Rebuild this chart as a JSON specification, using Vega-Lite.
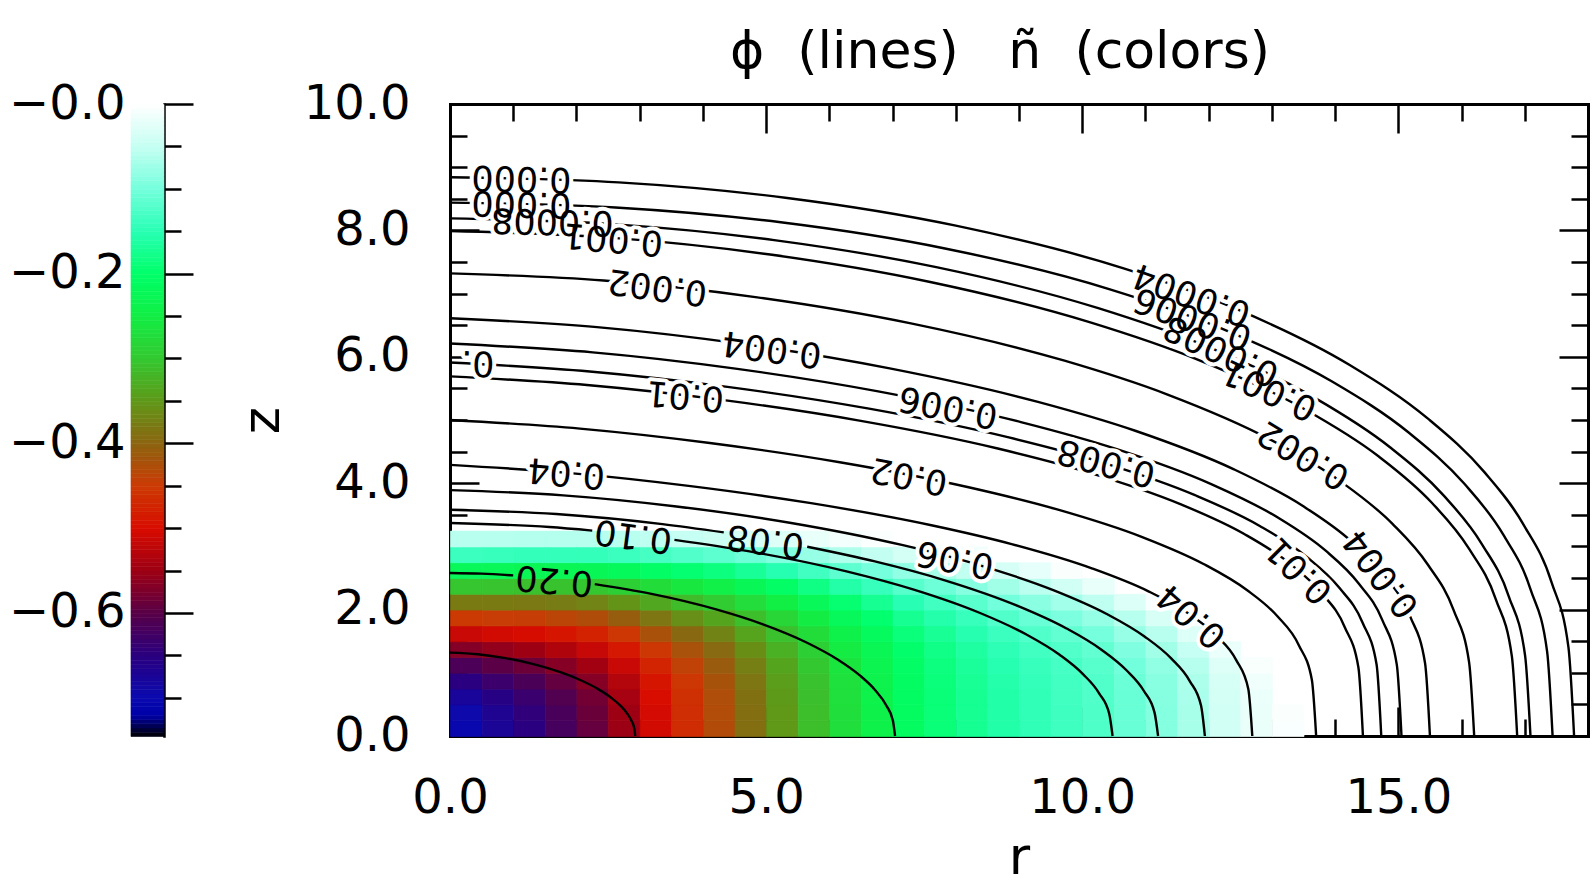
{
"$schema":"https://vega.github.io/schema/vega-lite/v6.json",
"background":"white",
"padding":{"left":8,"top":26,"right":5,"bottom":5},
"width":1138,"height":632,
"config":{"view":{"stroke":null},"font":"DejaVu Sans",
"axis":{"grid":false,"labelFont":"DejaVu Sans","labelFontSize":48,"labelColor":"black","tickColor":"black","tickWidth":2.5,"domainColor":"black","domainWidth":3,"domainCap":"square","titleFont":"DejaVu Sans","titleFontSize":52,"titleFontWeight":"normal","titleColor":"black","labelFlush":false,"labelOverlap":false,"zindex":1}},
"title":{"text":"ϕ\u00a0\u00a0(lines)\u00a0\u00a0\u00a0ñ\u00a0\u00a0(colors)","fontSize":52,"font":"DejaVu Sans","fontWeight":"normal","color":"black","anchor":"middle","offset":1,"dx":-19},
"datasets":{
"cbar":[{"v":-0.7425},{"v":-0.7375},{"v":-0.7325},{"v":-0.7275},{"v":-0.7225},{"v":-0.7175},{"v":-0.7125},{"v":-0.7075},{"v":-0.7025},{"v":-0.6975},{"v":-0.6925},{"v":-0.6875},{"v":-0.6825},{"v":-0.6775},{"v":-0.6725},{"v":-0.6675},{"v":-0.6625},{"v":-0.6575},{"v":-0.6525},{"v":-0.6475},{"v":-0.6425},{"v":-0.6375},{"v":-0.6325},{"v":-0.6275},{"v":-0.6225},{"v":-0.6175},{"v":-0.6125},{"v":-0.6075},{"v":-0.6025},{"v":-0.5975},{"v":-0.5925},{"v":-0.5875},{"v":-0.5825},{"v":-0.5775},{"v":-0.5725},{"v":-0.5675},{"v":-0.5625},{"v":-0.5575},{"v":-0.5525},{"v":-0.5475},{"v":-0.5425},{"v":-0.5375},{"v":-0.5325},{"v":-0.5275},{"v":-0.5225},{"v":-0.5175},{"v":-0.5125},{"v":-0.5075},{"v":-0.5025},{"v":-0.4975},{"v":-0.4925},{"v":-0.4875},{"v":-0.4825},{"v":-0.4775},{"v":-0.4725},{"v":-0.4675},{"v":-0.4625},{"v":-0.4575},{"v":-0.4525},{"v":-0.4475},{"v":-0.4425},{"v":-0.4375},{"v":-0.4325},{"v":-0.4275},{"v":-0.4225},{"v":-0.4175},{"v":-0.4125},{"v":-0.4075},{"v":-0.4025},{"v":-0.3975},{"v":-0.3925},{"v":-0.3875},{"v":-0.3825},{"v":-0.3775},{"v":-0.3725},{"v":-0.3675},{"v":-0.3625},{"v":-0.3575},{"v":-0.3525},{"v":-0.3475},{"v":-0.3425},{"v":-0.3375},{"v":-0.3325},{"v":-0.3275},{"v":-0.3225},{"v":-0.3175},{"v":-0.3125},{"v":-0.3075},{"v":-0.3025},{"v":-0.2975},{"v":-0.2925},{"v":-0.2875},{"v":-0.2825},{"v":-0.2775},{"v":-0.2725},{"v":-0.2675},{"v":-0.2625},{"v":-0.2575},{"v":-0.2525},{"v":-0.2475},{"v":-0.2425},{"v":-0.2375},{"v":-0.2325},{"v":-0.2275},{"v":-0.2225},{"v":-0.2175},{"v":-0.2125},{"v":-0.2075},{"v":-0.2025},{"v":-0.1975},{"v":-0.1925},{"v":-0.1875},{"v":-0.1825},{"v":-0.1775},{"v":-0.1725},{"v":-0.1675},{"v":-0.1625},{"v":-0.1575},{"v":-0.1525},{"v":-0.1475},{"v":-0.1425},{"v":-0.1375},{"v":-0.1325},{"v":-0.1275},{"v":-0.1225},{"v":-0.1175},{"v":-0.1125},{"v":-0.1075},{"v":-0.1025},{"v":-0.0975},{"v":-0.0925},{"v":-0.0875},{"v":-0.0825},{"v":-0.0775},{"v":-0.0725},{"v":-0.0675},{"v":-0.0625},{"v":-0.0575},{"v":-0.0525},{"v":-0.0475},{"v":-0.0425},{"v":-0.0375},{"v":-0.0325},{"v":-0.0275},{"v":-0.0225},{"v":-0.0175},{"v":-0.0125},{"v":-0.0075},{"v":-0.0025}],
"cells":[
{"r":0,"z":0,"n":-0.704},{"r":0,"z":0.25,"n":-0.695},{"r":0,"z":0.5,"n":-0.677},{"r":0,"z":0.75,"n":-0.65},{"r":0,"z":1,"n":-0.613},{"r":0,"z":1.25,"n":-0.568},{"r":0,"z":1.5,"n":-0.513},{"r":0,"z":1.75,"n":-0.45},{"r":0,"z":2,"n":-0.379},{"r":0,"z":2.25,"n":-0.302},{"r":0,"z":2.5,"n":-0.221},{"r":0,"z":2.75,"n":-0.138},{"r":0,"z":3,"n":-0.057},
{"r":0.5,"z":0,"n":-0.674},{"r":0.5,"z":0.25,"n":-0.668},{"r":0.5,"z":0.5,"n":-0.654},{"r":0.5,"z":0.75,"n":-0.631},{"r":0.5,"z":1,"n":-0.598},{"r":0.5,"z":1.25,"n":-0.557},{"r":0.5,"z":1.5,"n":-0.506},{"r":0.5,"z":1.75,"n":-0.447},{"r":0.5,"z":2,"n":-0.379},{"r":0.5,"z":2.25,"n":-0.304},{"r":0.5,"z":2.5,"n":-0.224},{"r":0.5,"z":2.75,"n":-0.14},{"r":0.5,"z":3,"n":-0.058},
{"r":1,"z":0,"n":-0.65},{"r":1,"z":0.25,"n":-0.645},{"r":1,"z":0.5,"n":-0.633},{"r":1,"z":0.75,"n":-0.614},{"r":1,"z":1,"n":-0.586},{"r":1,"z":1.25,"n":-0.548},{"r":1,"z":1.5,"n":-0.501},{"r":1,"z":1.75,"n":-0.445},{"r":1,"z":2,"n":-0.38},{"r":1,"z":2.25,"n":-0.307},{"r":1,"z":2.5,"n":-0.227},{"r":1,"z":2.75,"n":-0.143},{"r":1,"z":3,"n":-0.06},
{"r":1.5,"z":0,"n":-0.62},{"r":1.5,"z":0.25,"n":-0.616},{"r":1.5,"z":0.5,"n":-0.607},{"r":1.5,"z":0.75,"n":-0.591},{"r":1.5,"z":1,"n":-0.566},{"r":1.5,"z":1.25,"n":-0.533},{"r":1.5,"z":1.5,"n":-0.49},{"r":1.5,"z":1.75,"n":-0.437},{"r":1.5,"z":2,"n":-0.376},{"r":1.5,"z":2.25,"n":-0.305},{"r":1.5,"z":2.5,"n":-0.227},{"r":1.5,"z":2.75,"n":-0.143},{"r":1.5,"z":3,"n":-0.06},
{"r":2,"z":0,"n":-0.59},{"r":2,"z":0.25,"n":-0.587},{"r":2,"z":0.5,"n":-0.58},{"r":2,"z":0.75,"n":-0.566},{"r":2,"z":1,"n":-0.545},{"r":2,"z":1.25,"n":-0.515},{"r":2,"z":1.5,"n":-0.476},{"r":2,"z":1.75,"n":-0.428},{"r":2,"z":2,"n":-0.369},{"r":2,"z":2.25,"n":-0.301},{"r":2,"z":2.5,"n":-0.225},{"r":2,"z":2.75,"n":-0.143},{"r":2,"z":3,"n":-0.059},
{"r":2.5,"z":0,"n":-0.55},{"r":2.5,"z":0.25,"n":-0.548},{"r":2.5,"z":0.5,"n":-0.542},{"r":2.5,"z":0.75,"n":-0.531},{"r":2.5,"z":1,"n":-0.513},{"r":2.5,"z":1.25,"n":-0.487},{"r":2.5,"z":1.5,"n":-0.453},{"r":2.5,"z":1.75,"n":-0.408},{"r":2.5,"z":2,"n":-0.354},{"r":2.5,"z":2.25,"n":-0.29},{"r":2.5,"z":2.5,"n":-0.218},{"r":2.5,"z":2.75,"n":-0.138},{"r":2.5,"z":3,"n":-0.057},
{"r":3,"z":0,"n":-0.505},{"r":3,"z":0.25,"n":-0.504},{"r":3,"z":0.5,"n":-0.499},{"r":3,"z":0.75,"n":-0.49},{"r":3,"z":1,"n":-0.475},{"r":3,"z":1.25,"n":-0.453},{"r":3,"z":1.5,"n":-0.423},{"r":3,"z":1.75,"n":-0.383},{"r":3,"z":2,"n":-0.333},{"r":3,"z":2.25,"n":-0.274},{"r":3,"z":2.5,"n":-0.206},{"r":3,"z":2.75,"n":-0.131},{"r":3,"z":3,"n":-0.053},
{"r":3.5,"z":0,"n":-0.465},{"r":3.5,"z":0.25,"n":-0.464},{"r":3.5,"z":0.5,"n":-0.461},{"r":3.5,"z":0.75,"n":-0.453},{"r":3.5,"z":1,"n":-0.441},{"r":3.5,"z":1.25,"n":-0.422},{"r":3.5,"z":1.5,"n":-0.395},{"r":3.5,"z":1.75,"n":-0.359},{"r":3.5,"z":2,"n":-0.314},{"r":3.5,"z":2.25,"n":-0.259},{"r":3.5,"z":2.5,"n":-0.195},{"r":3.5,"z":2.75,"n":-0.123},{"r":3.5,"z":3,"n":-0.048},
{"r":4,"z":0,"n":-0.43},{"r":4,"z":0.25,"n":-0.429},{"r":4,"z":0.5,"n":-0.427},{"r":4,"z":0.75,"n":-0.421},{"r":4,"z":1,"n":-0.41},{"r":4,"z":1.25,"n":-0.394},{"r":4,"z":1.5,"n":-0.37},{"r":4,"z":1.75,"n":-0.337},{"r":4,"z":2,"n":-0.296},{"r":4,"z":2.25,"n":-0.245},{"r":4,"z":2.5,"n":-0.184},{"r":4,"z":2.75,"n":-0.115},{"r":4,"z":3,"n":-0.043},
{"r":4.5,"z":0,"n":-0.39},{"r":4.5,"z":0.25,"n":-0.39},{"r":4.5,"z":0.5,"n":-0.388},{"r":4.5,"z":0.75,"n":-0.383},{"r":4.5,"z":1,"n":-0.374},{"r":4.5,"z":1.25,"n":-0.36},{"r":4.5,"z":1.5,"n":-0.339},{"r":4.5,"z":1.75,"n":-0.31},{"r":4.5,"z":2,"n":-0.273},{"r":4.5,"z":2.25,"n":-0.225},{"r":4.5,"z":2.5,"n":-0.169},{"r":4.5,"z":2.75,"n":-0.104},{"r":4.5,"z":3,"n":-0.036},
{"r":5,"z":0,"n":-0.35},{"r":5,"z":0.25,"n":-0.35},{"r":5,"z":0.5,"n":-0.348},{"r":5,"z":0.75,"n":-0.344},{"r":5,"z":1,"n":-0.337},{"r":5,"z":1.25,"n":-0.325},{"r":5,"z":1.5,"n":-0.307},{"r":5,"z":1.75,"n":-0.282},{"r":5,"z":2,"n":-0.248},{"r":5,"z":2.25,"n":-0.205},{"r":5,"z":2.5,"n":-0.152},{"r":5,"z":2.75,"n":-0.092},{"r":5,"z":3,"n":-0.028},
{"r":5.5,"z":0,"n":-0.31},{"r":5.5,"z":0.25,"n":-0.31},{"r":5.5,"z":0.5,"n":-0.309},{"r":5.5,"z":0.75,"n":-0.306},{"r":5.5,"z":1,"n":-0.3},{"r":5.5,"z":1.25,"n":-0.29},{"r":5.5,"z":1.5,"n":-0.274},{"r":5.5,"z":1.75,"n":-0.252},{"r":5.5,"z":2,"n":-0.221},{"r":5.5,"z":2.25,"n":-0.182},{"r":5.5,"z":2.5,"n":-0.134},{"r":5.5,"z":2.75,"n":-0.078},{"r":5.5,"z":3,"n":-0.019},
{"r":6,"z":0,"n":-0.27},{"r":6,"z":0.25,"n":-0.27},{"r":6,"z":0.5,"n":-0.269},{"r":6,"z":0.75,"n":-0.267},{"r":6,"z":1,"n":-0.262},{"r":6,"z":1.25,"n":-0.253},{"r":6,"z":1.5,"n":-0.24},{"r":6,"z":1.75,"n":-0.22},{"r":6,"z":2,"n":-0.194},{"r":6,"z":2.25,"n":-0.158},{"r":6,"z":2.5,"n":-0.115},{"r":6,"z":2.75,"n":-0.063},{"r":6,"z":3,"n":-0.011},
{"r":6.5,"z":0,"n":-0.24},{"r":6.5,"z":0.25,"n":-0.24},{"r":6.5,"z":0.5,"n":-0.239},{"r":6.5,"z":0.75,"n":-0.237},{"r":6.5,"z":1,"n":-0.233},{"r":6.5,"z":1.25,"n":-0.226},{"r":6.5,"z":1.5,"n":-0.214},{"r":6.5,"z":1.75,"n":-0.197},{"r":6.5,"z":2,"n":-0.172},{"r":6.5,"z":2.25,"n":-0.14},{"r":6.5,"z":2.5,"n":-0.099},{"r":6.5,"z":2.75,"n":-0.051},{"r":6.5,"z":3,"n":-0.003},
{"r":7,"z":0,"n":-0.21},{"r":7,"z":0.25,"n":-0.21},{"r":7,"z":0.5,"n":-0.209},{"r":7,"z":0.75,"n":-0.208},{"r":7,"z":1,"n":-0.205},{"r":7,"z":1.25,"n":-0.198},{"r":7,"z":1.5,"n":-0.188},{"r":7,"z":1.75,"n":-0.172},{"r":7,"z":2,"n":-0.15},{"r":7,"z":2.25,"n":-0.12},{"r":7,"z":2.5,"n":-0.082},{"r":7,"z":2.75,"n":-0.037},
{"r":7.5,"z":0,"n":-0.19},{"r":7.5,"z":0.25,"n":-0.19},{"r":7.5,"z":0.5,"n":-0.19},{"r":7.5,"z":0.75,"n":-0.188},{"r":7.5,"z":1,"n":-0.185},{"r":7.5,"z":1.25,"n":-0.18},{"r":7.5,"z":1.5,"n":-0.17},{"r":7.5,"z":1.75,"n":-0.155},{"r":7.5,"z":2,"n":-0.134},{"r":7.5,"z":2.25,"n":-0.105},{"r":7.5,"z":2.5,"n":-0.068},{"r":7.5,"z":2.75,"n":-0.025},
{"r":8,"z":0,"n":-0.172},{"r":8,"z":0.25,"n":-0.172},{"r":8,"z":0.5,"n":-0.172},{"r":8,"z":0.75,"n":-0.17},{"r":8,"z":1,"n":-0.167},{"r":8,"z":1.25,"n":-0.162},{"r":8,"z":1.5,"n":-0.153},{"r":8,"z":1.75,"n":-0.14},{"r":8,"z":2,"n":-0.117},{"r":8,"z":2.25,"n":-0.089},{"r":8,"z":2.5,"n":-0.052},{"r":8,"z":2.75,"n":-0.012},
{"r":8.5,"z":0,"n":-0.157},{"r":8.5,"z":0.25,"n":-0.157},{"r":8.5,"z":0.5,"n":-0.157},{"r":8.5,"z":0.75,"n":-0.155},{"r":8.5,"z":1,"n":-0.152},{"r":8.5,"z":1.25,"n":-0.147},{"r":8.5,"z":1.5,"n":-0.138},{"r":8.5,"z":1.75,"n":-0.123},{"r":8.5,"z":2,"n":-0.101},{"r":8.5,"z":2.25,"n":-0.072},{"r":8.5,"z":2.5,"n":-0.036},
{"r":9,"z":0,"n":-0.145},{"r":9,"z":0.25,"n":-0.145},{"r":9,"z":0.5,"n":-0.145},{"r":9,"z":0.75,"n":-0.143},{"r":9,"z":1,"n":-0.14},{"r":9,"z":1.25,"n":-0.134},{"r":9,"z":1.5,"n":-0.124},{"r":9,"z":1.75,"n":-0.108},{"r":9,"z":2,"n":-0.086},{"r":9,"z":2.25,"n":-0.056},{"r":9,"z":2.5,"n":-0.021},
{"r":9.5,"z":0,"n":-0.135},{"r":9.5,"z":0.25,"n":-0.135},{"r":9.5,"z":0.5,"n":-0.134},{"r":9.5,"z":0.75,"n":-0.133},{"r":9.5,"z":1,"n":-0.13},{"r":9.5,"z":1.25,"n":-0.123},{"r":9.5,"z":1.5,"n":-0.112},{"r":9.5,"z":1.75,"n":-0.095},{"r":9.5,"z":2,"n":-0.071},{"r":9.5,"z":2.25,"n":-0.039},{"r":9.5,"z":2.5,"n":-0.004},
{"r":10,"z":0,"n":-0.125},{"r":10,"z":0.25,"n":-0.125},{"r":10,"z":0.5,"n":-0.124},{"r":10,"z":0.75,"n":-0.123},{"r":10,"z":1,"n":-0.119},{"r":10,"z":1.25,"n":-0.112},{"r":10,"z":1.5,"n":-0.099},{"r":10,"z":1.75,"n":-0.08},{"r":10,"z":2,"n":-0.053},{"r":10,"z":2.25,"n":-0.019},
{"r":10.5,"z":0,"n":-0.108},{"r":10.5,"z":0.25,"n":-0.108},{"r":10.5,"z":0.5,"n":-0.107},{"r":10.5,"z":0.75,"n":-0.106},{"r":10.5,"z":1,"n":-0.101},{"r":10.5,"z":1.25,"n":-0.093},{"r":10.5,"z":1.5,"n":-0.079},{"r":10.5,"z":1.75,"n":-0.058},{"r":10.5,"z":2,"n":-0.03},
{"r":11,"z":0,"n":-0.09},{"r":11,"z":0.25,"n":-0.09},{"r":11,"z":0.5,"n":-0.089},{"r":11,"z":0.75,"n":-0.087},{"r":11,"z":1,"n":-0.082},{"r":11,"z":1.25,"n":-0.072},{"r":11,"z":1.5,"n":-0.057},{"r":11,"z":1.75,"n":-0.034},{"r":11,"z":2,"n":-0.005},
{"r":11.5,"z":0,"n":-0.068},{"r":11.5,"z":0.25,"n":-0.068},{"r":11.5,"z":0.5,"n":-0.067},{"r":11.5,"z":0.75,"n":-0.065},{"r":11.5,"z":1,"n":-0.059},{"r":11.5,"z":1.25,"n":-0.048},{"r":11.5,"z":1.5,"n":-0.03},{"r":11.5,"z":1.75,"n":-0.006},
{"r":12,"z":0,"n":-0.038},{"r":12,"z":0.25,"n":-0.038},{"r":12,"z":0.5,"n":-0.037},{"r":12,"z":0.75,"n":-0.035},{"r":12,"z":1,"n":-0.029},{"r":12,"z":1.25,"n":-0.017},
{"r":12.5,"z":0,"n":-0.018},{"r":12.5,"z":0.25,"n":-0.018},{"r":12.5,"z":0.5,"n":-0.017},{"r":12.5,"z":0.75,"n":-0.013},{"r":12.5,"z":1,"n":-0.006},
{"r":13,"z":0,"n":-0.005},{"r":13,"z":0.25,"n":-0.004}],
"lines":[
{"s":1,"r":0,"z":1.32},{"s":1,"r":0.44,"z":1.294},{"s":1,"r":0.879,"z":1.232},{"s":1,"r":1.319,"z":1.138},{"s":1,"r":1.758,"z":1.006},{"s":1,"r":2.051,"z":0.89},{"s":1,"r":2.344,"z":0.742},{"s":1,"r":2.549,"z":0.606},{"s":1,"r":2.696,"z":0.48},{"s":1,"r":2.798,"z":0.362},{"s":1,"r":2.871,"z":0.242},{"s":1,"r":2.915,"z":0.122},{"s":1,"r":2.93,"z":0},
{"s":2,"r":0,"z":2.58},{"s":2,"r":0.5,"z":2.569},{"s":2,"r":1.0,"z":2.541},
{"s":3,"r":2.29,"z":2.403},{"s":3,"r":3.168,"z":2.253},{"s":3,"r":4.224,"z":2.0},{"s":3,"r":4.928,"z":1.776},{"s":3,"r":5.632,"z":1.484},{"s":3,"r":6.125,"z":1.215},{"s":3,"r":6.477,"z":0.963},{"s":3,"r":6.723,"z":0.728},{"s":3,"r":6.899,"z":0.487},{"s":3,"r":7.005,"z":0.245},{"s":3,"r":7.04,"z":0},
{"s":4,"r":0,"z":3.37},{"s":4,"r":1.572,"z":3.306},{"s":4,"r":2.25,"z":3.25},
{"s":5,"r":3.55,"z":3.104},{"s":5,"r":4.716,"z":2.925},{"s":5,"r":6.288,"z":2.601},{"s":5,"r":7.336,"z":2.316},{"s":5,"r":8.384,"z":1.946},{"s":5,"r":9.118,"z":1.606},{"s":5,"r":9.642,"z":1.286},{"s":5,"r":10.008,"z":0.983},{"s":5,"r":10.27,"z":0.671},{"s":5,"r":10.428,"z":0.348},{"s":5,"r":10.48,"z":0},
{"s":6,"r":0,"z":3.58},{"s":6,"r":1.68,"z":3.512},{"s":6,"r":3.36,"z":3.352},{"s":6,"r":4.33,"z":3.221},
{"s":7,"r":5.65,"z":2.995},{"s":7,"r":6.72,"z":2.763},{"s":7,"r":7.84,"z":2.46},{"s":7,"r":8.96,"z":2.067},{"s":7,"r":9.744,"z":1.706},{"s":7,"r":10.304,"z":1.366},{"s":7,"r":10.696,"z":1.044},{"s":7,"r":10.976,"z":0.712},{"s":7,"r":11.144,"z":0.37},{"s":7,"r":11.2,"z":0},
{"s":8,"r":0,"z":3.89},{"s":8,"r":1.791,"z":3.808},{"s":8,"r":3.582,"z":3.632},{"s":8,"r":5.373,"z":3.375},{"s":8,"r":7.164,"z":3.019},{"s":8,"r":8.358,"z":2.708},{"s":8,"r":9.552,"z":2.305},{"s":8,"r":10.388,"z":1.931},{"s":8,"r":10.985,"z":1.575},{"s":8,"r":11.403,"z":1.232},{"s":8,"r":11.701,"z":0.869},{"s":8,"r":11.88,"z":0.477},{"s":8,"r":11.94,"z":0},
{"s":9,"r":0,"z":4.29},{"s":9,"r":1.904,"z":4.16},{"s":9,"r":3.807,"z":3.954},{"s":9,"r":5.711,"z":3.684},{"s":9,"r":7.614,"z":3.335},{"s":9,"r":8.883,"z":3.037},{"s":9,"r":10.152,"z":2.653},{"s":9,"r":11.04,"z":2.293},{"s":9,"r":11.675,"z":1.941},{"s":9,"r":12.119,"z":1.591},{"s":9,"r":12.436,"z":1.201},{"s":9,"r":12.627,"z":0.742},{"s":9,"r":12.69,"z":0},
{"s":10,"r":0,"z":5.0},{"s":10,"r":2.055,"z":4.864},{"s":10,"r":4.11,"z":4.636},{"s":10,"r":6.165,"z":4.332},{"s":10,"r":8.22,"z":3.932},{"s":10,"r":9.59,"z":3.589},{"s":10,"r":10.96,"z":3.143},{"s":10,"r":11.919,"z":2.722},{"s":10,"r":12.604,"z":2.31},{"s":10,"r":13.084,"z":1.898},{"s":10,"r":13.426,"z":1.437},{"s":10,"r":13.632,"z":0.89},{"s":10,"r":13.7,"z":0},
{"s":11,"r":0,"z":5.69},{"s":11,"r":2.166,"z":5.553},{"s":11,"r":4.332,"z":5.314},{"s":11,"r":6.498,"z":4.986},{"s":11,"r":8.664,"z":4.549},{"s":11,"r":10.108,"z":4.168},{"s":11,"r":11.552,"z":3.669},{"s":11,"r":12.563,"z":3.196},{"s":11,"r":13.285,"z":2.728},{"s":11,"r":13.79,"z":2.257},{"s":11,"r":14.151,"z":1.726},{"s":11,"r":14.368,"z":1.088},{"s":11,"r":14.44,"z":0},
{"s":12,"r":0,"z":5.91},{"s":12,"r":2.21,"z":5.768},{"s":12,"r":4.419,"z":5.52},{"s":12,"r":6.629,"z":5.179},{"s":12,"r":8.838,"z":4.724},{"s":12,"r":10.311,"z":4.33},{"s":12,"r":11.784,"z":3.811},{"s":12,"r":12.815,"z":3.32},{"s":12,"r":13.552,"z":2.833},{"s":12,"r":14.067,"z":2.344},{"s":12,"r":14.435,"z":1.793},{"s":12,"r":14.656,"z":1.131},{"s":12,"r":14.73,"z":0},
{"s":13,"r":0,"z":6.21},{"s":13,"r":2.258,"z":6.07},{"s":13,"r":4.515,"z":5.813},{"s":13,"r":6.773,"z":5.453},{"s":13,"r":9.03,"z":4.967},{"s":13,"r":10.535,"z":4.543},{"s":13,"r":12.04,"z":3.986},{"s":13,"r":13.094,"z":3.457},{"s":13,"r":13.846,"z":2.936},{"s":13,"r":14.373,"z":2.413},{"s":13,"r":14.749,"z":1.829},{"s":13,"r":14.975,"z":1.133},{"s":13,"r":15.05,"z":0},
{"s":14,"r":0,"z":6.61},{"s":14,"r":2.325,"z":6.47},{"s":14,"r":4.65,"z":6.2},{"s":14,"r":6.975,"z":5.813},{"s":14,"r":9.3,"z":5.287},{"s":14,"r":10.85,"z":4.826},{"s":14,"r":12.4,"z":4.219},{"s":14,"r":13.485,"z":3.643},{"s":14,"r":14.26,"z":3.078},{"s":14,"r":14.803,"z":2.513},{"s":14,"r":15.19,"z":1.885},{"s":14,"r":15.423,"z":1.151},{"s":14,"r":15.5,"z":0},
{"s":15,"r":0,"z":7.32},{"s":15,"r":2.43,"z":7.207},{"s":15,"r":4.86,"z":6.941},{"s":15,"r":7.29,"z":6.529},{"s":15,"r":9.72,"z":5.938},{"s":15,"r":11.34,"z":5.406},{"s":15,"r":12.96,"z":4.698},{"s":15,"r":14.094,"z":4.023},{"s":15,"r":14.904,"z":3.361},{"s":15,"r":15.471,"z":2.706},{"s":15,"r":15.876,"z":1.987},{"s":15,"r":16.119,"z":1.17},{"s":15,"r":16.2,"z":0},
{"s":16,"r":0,"z":7.99},{"s":16,"r":2.532,"z":7.885},{"s":16,"r":5.064,"z":7.618},{"s":16,"r":7.596,"z":7.184},{"s":16,"r":10.128,"z":6.545},{"s":16,"r":11.816,"z":5.961},{"s":16,"r":13.504,"z":5.178},{"s":16,"r":14.686,"z":4.426},{"s":16,"r":15.53,"z":3.69},{"s":16,"r":16.12,"z":2.96},{"s":16,"r":16.542,"z":2.163},{"s":16,"r":16.796,"z":1.26},{"s":16,"r":16.88,"z":0},
{"s":17,"r":0,"z":8.19},{"s":17,"r":2.564,"z":8.1},{"s":17,"r":5.127,"z":7.847},{"s":17,"r":7.691,"z":7.418},{"s":17,"r":10.254,"z":6.769},{"s":17,"r":11.963,"z":6.168},{"s":17,"r":13.672,"z":5.354},{"s":17,"r":14.868,"z":4.569},{"s":17,"r":15.723,"z":3.799},{"s":17,"r":16.321,"z":3.037},{"s":17,"r":16.748,"z":2.207},{"s":17,"r":17.005,"z":1.272},{"s":17,"r":17.09,"z":0},
{"s":18,"r":0,"z":8.44},{"s":18,"r":2.616,"z":8.363},{"s":18,"r":5.232,"z":8.128},{"s":18,"r":7.848,"z":7.71},{"s":18,"r":10.464,"z":7.06},{"s":18,"r":12.208,"z":6.447},{"s":18,"r":13.952,"z":5.608},{"s":18,"r":15.173,"z":4.794},{"s":18,"r":16.045,"z":3.99},{"s":18,"r":16.655,"z":3.193},{"s":18,"r":17.091,"z":2.32},{"s":18,"r":17.353,"z":1.338},{"s":18,"r":17.44,"z":0},
{"s":19,"r":0,"z":8.84},{"s":19,"r":2.667,"z":8.76},{"s":19,"r":5.334,"z":8.513},{"s":19,"r":8.001,"z":8.075},{"s":19,"r":10.668,"z":7.395},{"s":19,"r":12.446,"z":6.753},{"s":19,"r":14.224,"z":5.874},{"s":19,"r":15.469,"z":5.021},{"s":19,"r":16.358,"z":4.179},{"s":19,"r":16.98,"z":3.344},{"s":19,"r":17.424,"z":2.43},{"s":19,"r":17.691,"z":1.401},{"s":19,"r":17.78,"z":0}],
"labels":[
{"id":1,"t":"0.000","r":1.13,"z":8.83},
{"id":2,"t":"0.000","r":1.13,"z":8.43},
{"id":3,"t":"0.0008","r":1.62,"z":8.15},
{"id":4,"t":"0.001","r":2.58,"z":7.87},
{"id":5,"t":"0.002","r":3.28,"z":7.11},
{"id":6,"t":"0.004","r":5.09,"z":6.13},
{"id":7,"t":"0.","r":0.44,"z":5.91},
{"id":8,"t":"0.01","r":3.72,"z":5.39},
{"id":9,"t":"0.006","r":7.88,"z":5.21},
{"id":10,"t":"0.04","r":1.84,"z":4.17},
{"id":11,"t":"0.02","r":7.26,"z":4.12},
{"id":12,"t":"0.10","r":2.9,"z":3.17},
{"id":13,"t":"0.08","r":4.99,"z":3.09},
{"id":14,"t":"0.06","r":7.99,"z":2.8},
{"id":15,"t":"0.20","r":1.65,"z":2.47},
{"id":16,"t":"0.008","r":10.38,"z":4.33},
{"id":17,"t":"0.002","r":13.5,"z":4.45},
{"id":18,"t":"0.01","r":13.43,"z":2.62},
{"id":19,"t":"0.004","r":14.73,"z":2.57},
{"id":20,"t":"0.04","r":11.73,"z":1.9},
{"id":21,"t":"0.0004","r":11.73,"z":6.99},
{"id":22,"t":"0.0006","r":11.75,"z":6.61},
{"id":23,"t":"0.0008","r":12.2,"z":6.1},
{"id":24,"t":"0.001","r":12.96,"z":5.48}]
},
"layer":[
{
"data":{"name":"cbar"},
"encoding":{
"x":{"datum":0,"type":"quantitative","scale":{"domain":[9.6667,44.1515],"nice":false,"zero":false},"axis":null},
"x2":{"datum":1},
"color":{"field":"v","type":"quantitative","scale":{"domain":[-0.745,-0.72,-0.7,-0.65,-0.6,-0.55,-0.5,-0.45,-0.4,-0.35,-0.3,-0.25,-0.2,-0.15,-0.1,-0.05,0],"range":["#000000","#0000a8","#0a0ab0","#2a0080","#580048","#9c0014","#d80c00","#cc3a04","#8c6410","#609818","#34c830","#12ee44","#00ff68","#28ffb4","#74ffdc","#c4fff2","#ffffff"],"interpolate":"rgb"},"legend":null},
"stroke":{"field":"v","type":"quantitative","scale":{"domain":[-0.745,-0.72,-0.7,-0.65,-0.6,-0.55,-0.5,-0.45,-0.4,-0.35,-0.3,-0.25,-0.2,-0.15,-0.1,-0.05,0],"range":["#000000","#0000a8","#0a0ab0","#2a0080","#580048","#9c0014","#d80c00","#cc3a04","#8c6410","#609818","#34c830","#12ee44","#00ff68","#28ffb4","#74ffdc","#c4fff2","#ffffff"],"interpolate":"rgb"},"legend":null}
},
"layer":[
{"mark":{"type":"rect","strokeWidth":0.6},
"encoding":{"y":{"field":"v","type":"quantitative","bin":{"step":0.005,"extent":[-0.745,0],"nice":false},"scale":{"domain":[-0.745,0],"nice":false,"zero":false},
"axis":{"orient":"left","offset":319,"values":[0,-0.2,-0.4,-0.6],"labelExpr":"'\u2212' + format(abs(datum.value), '.1f')","ticks":false,"domain":false,"labelPadding":6,"title":null}}}},
{"mark":{"type":"rect","opacity":0},
"encoding":{"y":{"field":"v","type":"quantitative","bin":{"step":0.005,"extent":[-0.745,0],"nice":false},"scale":{"domain":[-0.745,0],"nice":false,"zero":false},
"axis":{"orient":"left","offset":286,"values":[0,-0.2,-0.4,-0.6],"tickSize":-29,"labels":false,"domain":true,"domainWidth":2.5,"title":null}}}},
{"mark":{"type":"rect","opacity":0},
"encoding":{"y":{"field":"v","type":"quantitative","bin":{"step":0.005,"extent":[-0.745,0],"nice":false},"scale":{"domain":[-0.745,0],"nice":false,"zero":false},
"axis":{"orient":"left","offset":286,"values":[-0.05,-0.1,-0.15,-0.25,-0.3,-0.35,-0.45,-0.5,-0.55,-0.65,-0.7],"tickSize":-17,"labels":false,"domain":false,"title":null}}}}
],
"resolve":{"axis":{"y":"independent"}}
},
{
"encoding":{
"x":{"field":"r","type":"quantitative","scale":{"domain":[0,18],"nice":false,"zero":false},"axis":null},
"y":{"field":"z","type":"quantitative","scale":{"domain":[0,10],"nice":false,"zero":false},"axis":null}
},
"layer":[
{"data":{"name":"cells"},
"mark":{"type":"rect","strokeWidth":0.7},
"encoding":{
"x":{"field":"r","type":"quantitative","bin":{"step":0.5,"extent":[0,18],"nice":false},"scale":{"domain":[0,18],"nice":false,"zero":false},
"axis":{"orient":"bottom","values":[0,5,10,15],"format":".1f","tickSize":-29,"labelPadding":67,"title":"r","titlePadding":10}},
"y":{"field":"z","type":"quantitative","bin":{"step":0.25,"extent":[0,10],"nice":false},"scale":{"domain":[0,10],"nice":false,"zero":false},
"axis":{"orient":"left","values":[0,2,4,6,8,10],"format":".1f","tickSize":-29,"labelPadding":69,"title":"z","titlePadding":14}},
"color":{"field":"n","type":"quantitative","scale":{"domain":[-0.745,-0.72,-0.7,-0.65,-0.6,-0.55,-0.5,-0.45,-0.4,-0.35,-0.3,-0.25,-0.2,-0.15,-0.1,-0.05,0],"range":["#000000","#0000a8","#0a0ab0","#2a0080","#580048","#9c0014","#d80c00","#cc3a04","#8c6410","#609818","#34c830","#12ee44","#00ff68","#28ffb4","#74ffdc","#c4fff2","#ffffff"],"interpolate":"rgb"},"legend":null},
"stroke":{"field":"n","type":"quantitative","scale":{"domain":[-0.745,-0.72,-0.7,-0.65,-0.6,-0.55,-0.5,-0.45,-0.4,-0.35,-0.3,-0.25,-0.2,-0.15,-0.1,-0.05,0],"range":["#000000","#0000a8","#0a0ab0","#2a0080","#580048","#9c0014","#d80c00","#cc3a04","#8c6410","#609818","#34c830","#12ee44","#00ff68","#28ffb4","#74ffdc","#c4fff2","#ffffff"],"interpolate":"rgb"},"legend":null}
}},
{"data":{"name":"lines"},
"mark":{"type":"line","interpolate":"monotone","color":"black","strokeWidth":2.4},
"encoding":{
"x":{"field":"r","type":"quantitative","scale":{"domain":[0,18],"nice":false,"zero":false},
"axis":{"orient":"bottom","values":[1,2,3,4,6,7,8,9,11,12,13,14,16,17],"tickSize":-17,"labels":false,"domain":false,"title":null}},
"y":{"field":"z","type":"quantitative","scale":{"domain":[0,10],"nice":false,"zero":false},
"axis":{"orient":"left","values":[0.5,1,1.5,2.5,3,3.5,4.5,5,5.5,6.5,7,7.5,8.5,9,9.5],"tickSize":-17,"labels":false,"domain":false,"title":null}},
"detail":{"field":"s","type":"nominal"}
}},
{"data":{"name":"labels"},"transform":[{"filter":{"field":"id","oneOf":[1,2,3,7]}}],
"mark":{"type":"text","angle":181.5,"fontSize":35,"font":"DejaVu Sans","align":"center","baseline":"middle","fill":"white","stroke":"white","strokeWidth":8,"strokeJoin":"round"},
"encoding":{
"x":{"field":"r","type":"quantitative","scale":{"domain":[0,18],"nice":false,"zero":false},
"axis":{"orient":"top","values":[0,5,10,15],"tickSize":-29,"labels":false,"title":null}},
"y":{"field":"z","type":"quantitative","scale":{"domain":[0,10],"nice":false,"zero":false},
"axis":{"orient":"right","values":[0,2,4,6,8,10],"tickSize":-29,"labels":false,"title":null}},
"text":{"field":"t"}}},
{"data":{"name":"labels"},"transform":[{"filter":{"field":"id","oneOf":[4,8,10]}}],
"mark":{"type":"text","angle":185,"fontSize":35,"font":"DejaVu Sans","align":"center","baseline":"middle","fill":"white","stroke":"white","strokeWidth":8,"strokeJoin":"round"},
"encoding":{
"x":{"field":"r","type":"quantitative","scale":{"domain":[0,18],"nice":false,"zero":false},
"axis":{"orient":"top","values":[1,2,3,4,6,7,8,9,11,12,13,14,16,17],"tickSize":-17,"labels":false,"domain":false,"title":null}},
"y":{"field":"z","type":"quantitative","scale":{"domain":[0,10],"nice":false,"zero":false},
"axis":{"orient":"right","values":[0.5,1,1.5,2.5,3,3.5,4.5,5,5.5,6.5,7,7.5,8.5,9,9.5],"tickSize":-17,"labels":false,"domain":false,"title":null}},
"text":{"field":"t"}}},
{"data":{"name":"labels"},"transform":[{"filter":{"field":"id","oneOf":[5,6]}}],
"mark":{"type":"text","angle":187.5,"fontSize":35,"font":"DejaVu Sans","align":"center","baseline":"middle","fill":"white","stroke":"white","strokeWidth":8,"strokeJoin":"round"},
"encoding":{"text":{"field":"t"}}},
{"data":{"name":"labels"},"transform":[{"filter":{"field":"id","oneOf":[9,11,14]}}],
"mark":{"type":"text","angle":191,"fontSize":35,"font":"DejaVu Sans","align":"center","baseline":"middle","fill":"white","stroke":"white","strokeWidth":8,"strokeJoin":"round"},
"encoding":{"text":{"field":"t"}}},
{"data":{"name":"labels"},"transform":[{"filter":{"field":"id","oneOf":[16]}}],
"mark":{"type":"text","angle":195,"fontSize":35,"font":"DejaVu Sans","align":"center","baseline":"middle","fill":"white","stroke":"white","strokeWidth":8,"strokeJoin":"round"},
"encoding":{"text":{"field":"t"}}},
{"data":{"name":"labels"},"transform":[{"filter":{"field":"id","oneOf":[21,22]}}],
"mark":{"type":"text","angle":200,"fontSize":35,"font":"DejaVu Sans","align":"center","baseline":"middle","fill":"white","stroke":"white","strokeWidth":8,"strokeJoin":"round"},
"encoding":{"text":{"field":"t"}}},
{"data":{"name":"labels"},"transform":[{"filter":{"field":"id","oneOf":[23,24]}}],
"mark":{"type":"text","angle":205,"fontSize":35,"font":"DejaVu Sans","align":"center","baseline":"middle","fill":"white","stroke":"white","strokeWidth":8,"strokeJoin":"round"},
"encoding":{"text":{"field":"t"}}},
{"data":{"name":"labels"},"transform":[{"filter":{"field":"id","oneOf":[17]}}],
"mark":{"type":"text","angle":211,"fontSize":35,"font":"DejaVu Sans","align":"center","baseline":"middle","fill":"white","stroke":"white","strokeWidth":8,"strokeJoin":"round"},
"encoding":{"text":{"field":"t"}}},
{"data":{"name":"labels"},"transform":[{"filter":{"field":"id","oneOf":[20]}}],
"mark":{"type":"text","angle":221,"fontSize":35,"font":"DejaVu Sans","align":"center","baseline":"middle","fill":"white","stroke":"white","strokeWidth":8,"strokeJoin":"round"},
"encoding":{"text":{"field":"t"}}},
{"data":{"name":"labels"},"transform":[{"filter":{"field":"id","oneOf":[18]}}],
"mark":{"type":"text","angle":225,"fontSize":35,"font":"DejaVu Sans","align":"center","baseline":"middle","fill":"white","stroke":"white","strokeWidth":8,"strokeJoin":"round"},
"encoding":{"text":{"field":"t"}}},
{"data":{"name":"labels"},"transform":[{"filter":{"field":"id","oneOf":[19]}}],
"mark":{"type":"text","angle":233,"fontSize":35,"font":"DejaVu Sans","align":"center","baseline":"middle","fill":"white","stroke":"white","strokeWidth":8,"strokeJoin":"round"},
"encoding":{"text":{"field":"t"}}},
{"data":{"name":"labels"},"transform":[{"filter":{"field":"id","oneOf":[1,2,3,7]}}],
"mark":{"type":"text","angle":181.5,"fontSize":35,"font":"DejaVu Sans","align":"center","baseline":"middle","color":"black"},
"encoding":{"text":{"field":"t"}}},
{"data":{"name":"labels"},"transform":[{"filter":{"field":"id","oneOf":[4,8,10,15]}}],
"mark":{"type":"text","angle":185,"fontSize":35,"font":"DejaVu Sans","align":"center","baseline":"middle","color":"black"},
"encoding":{"text":{"field":"t"}}},
{"data":{"name":"labels"},"transform":[{"filter":{"field":"id","oneOf":[5,6,12,13]}}],
"mark":{"type":"text","angle":187.5,"fontSize":35,"font":"DejaVu Sans","align":"center","baseline":"middle","color":"black"},
"encoding":{"text":{"field":"t"}}},
{"data":{"name":"labels"},"transform":[{"filter":{"field":"id","oneOf":[9,11,14]}}],
"mark":{"type":"text","angle":191,"fontSize":35,"font":"DejaVu Sans","align":"center","baseline":"middle","color":"black"},
"encoding":{"text":{"field":"t"}}},
{"data":{"name":"labels"},"transform":[{"filter":{"field":"id","oneOf":[16]}}],
"mark":{"type":"text","angle":195,"fontSize":35,"font":"DejaVu Sans","align":"center","baseline":"middle","color":"black"},
"encoding":{"text":{"field":"t"}}},
{"data":{"name":"labels"},"transform":[{"filter":{"field":"id","oneOf":[21,22]}}],
"mark":{"type":"text","angle":200,"fontSize":35,"font":"DejaVu Sans","align":"center","baseline":"middle","color":"black"},
"encoding":{"text":{"field":"t"}}},
{"data":{"name":"labels"},"transform":[{"filter":{"field":"id","oneOf":[23,24]}}],
"mark":{"type":"text","angle":205,"fontSize":35,"font":"DejaVu Sans","align":"center","baseline":"middle","color":"black"},
"encoding":{"text":{"field":"t"}}},
{"data":{"name":"labels"},"transform":[{"filter":{"field":"id","oneOf":[17]}}],
"mark":{"type":"text","angle":211,"fontSize":35,"font":"DejaVu Sans","align":"center","baseline":"middle","color":"black"},
"encoding":{"text":{"field":"t"}}},
{"data":{"name":"labels"},"transform":[{"filter":{"field":"id","oneOf":[20]}}],
"mark":{"type":"text","angle":221,"fontSize":35,"font":"DejaVu Sans","align":"center","baseline":"middle","color":"black"},
"encoding":{"text":{"field":"t"}}},
{"data":{"name":"labels"},"transform":[{"filter":{"field":"id","oneOf":[18]}}],
"mark":{"type":"text","angle":225,"fontSize":35,"font":"DejaVu Sans","align":"center","baseline":"middle","color":"black"},
"encoding":{"text":{"field":"t"}}},
{"data":{"name":"labels"},"transform":[{"filter":{"field":"id","oneOf":[19]}}],
"mark":{"type":"text","angle":233,"fontSize":35,"font":"DejaVu Sans","align":"center","baseline":"middle","color":"black"},
"encoding":{"text":{"field":"t"}}}
],
"resolve":{"axis":{"x":"independent","y":"independent"}}
}
],
"resolve":{"scale":{"x":"independent","y":"independent"}}
}
